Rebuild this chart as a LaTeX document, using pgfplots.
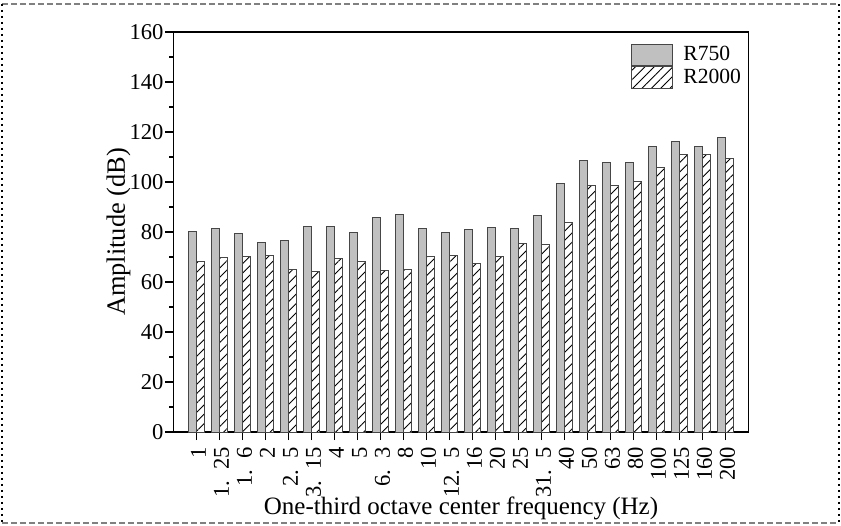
\documentclass[border=0pt]{standalone}
\usepackage{fontspec}
\setmainfont{Liberation Serif}
\usepackage{pgfplots}
\pgfplotsset{compat=1.18}
\usetikzlibrary{patterns.meta}
\definecolor{barfill}{RGB}{192,192,192}
\definecolor{baredge}{RGB}{70,70,70}
\newcommand{\dsp}{.\hspace{0.5em}}
\begin{document}
\begin{tikzpicture}
\useasboundingbox (-86.75pt,-46.5pt) rectangle (333.75pt,216pt);
\draw[gray, line width=0.6pt, dash pattern=on 3pt off 1.5pt] (-85.75pt,214pt) -- (332.75pt,214pt);
\draw[gray, line width=0.6pt, dash pattern=on 3pt off 1.5pt] (-85.75pt,-45.5pt) -- (332.75pt,-45.5pt);
\draw[black, line width=0.8pt, dash pattern=on 0.8pt off 2.2pt] (-85.75pt,214pt) -- (-85.75pt,-45.5pt);
\draw[black, line width=0.8pt, dash pattern=on 0.8pt off 2.2pt] (332.75pt,214pt) -- (332.75pt,-45.5pt);
\begin{axis}[
  at={(0pt,0pt)}, anchor=south west,
  scale only axis, width=287.5pt, height=200pt,
  ybar=0pt, bar width=0.36,
  xmin=-1, xmax=24, ymin=0, ymax=160,
  xtick={0,...,23},
  xticklabels={1,1\dsp25,1\dsp6,2,2\dsp5,3\dsp15,4,5,6\dsp3,8,10,12\dsp5,16,20,25,31\dsp5,40,50,63,80,100,125,160,200},
  xticklabel style={rotate=90, anchor=east, font=\fontsize{11.3}{12}\selectfont},
  ytick={0,20,...,160}, minor y tick num=1,
  yticklabel style={font=\fontsize{11.3}{12}\selectfont, xshift=2.5pt},
  /pgf/number format/assume math mode=true,
  tick align=outside, xtick pos=bottom, ytick pos=left,
  major tick length=4pt, minor tick length=2pt,
  every tick/.style={black, line width=0.8pt},
  axis line style={line width=0.8pt},
  x tick label style={yshift=-1pt},
  xlabel={One-third octave center frequency (Hz)},
  ylabel={Amplitude (dB)},
  every axis x label/.style={at={(axis description cs:0.5,-0.19)}, anchor=center, font=\fontsize{12.5}{14}\selectfont},
  every axis y label/.style={at={(axis description cs:-0.0957,0.5)}, rotate=90, anchor=center, font=\fontsize{13.2}{15}\selectfont},
  legend style={draw=none, fill=none, at={(rel axis cs:0.7957,0.972)}, anchor=north west,
    inner sep=0pt, row sep=0pt, font=\fontsize{10.8}{12}\selectfont,
    nodes={inner sep=1pt, anchor=west},
    /tikz/every odd column/.style={column sep=4pt}},
  legend cell align=left,
  legend image code/.code={\draw[#1] (0pt,-5.4pt) rectangle (20.5pt,5.4pt);},
]
\addplot[fill=barfill, draw=baredge, line width=0.5pt] coordinates {
(0,80.4) (1,81.3) (2,79.5) (3,76.0) (4,76.5) (5,82.4) (6,82.3) (7,80.0)
(8,85.7) (9,86.9) (10,81.6) (11,79.9) (12,81.1) (13,81.7) (14,81.3) (15,86.8)
(16,99.6) (17,108.5) (18,107.9) (19,107.7) (20,114.3) (21,116.1) (22,114.1) (23,117.7)};
\addplot[fill=white, draw=baredge, line width=0.5pt, postaction={pattern={Lines[angle=45,distance=3.3pt,line width=0.45pt]}}] coordinates {
(0,68.2) (1,69.8) (2,70.4) (3,70.6) (4,65.1) (5,64.2) (6,69.4) (7,68.3)
(8,64.6) (9,65.0) (10,70.2) (11,70.8) (12,67.4) (13,70.2) (14,75.3) (15,75.2)
(16,84.0) (17,98.6) (18,98.6) (19,100.1) (20,105.9) (21,111.0) (22,110.9) (23,109.3)};
\legend{R750,R2000}
\end{axis}
\end{tikzpicture}
\end{document}
